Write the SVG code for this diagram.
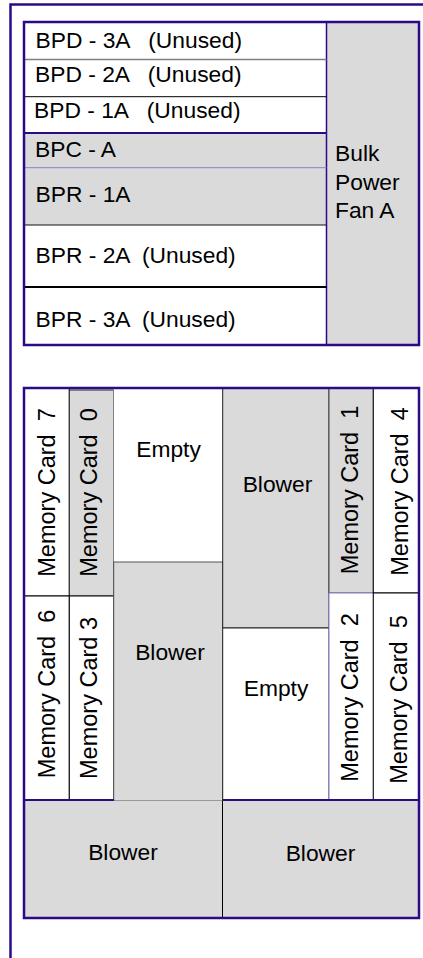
<svg xmlns="http://www.w3.org/2000/svg" width="423" height="958" viewBox="0 0 423 958" xml:space="preserve">
<style>
.t{font-family:"Liberation Sans",Arial,Helvetica,sans-serif;font-size:22.8px;fill:#000;white-space:pre}
.v{font-family:"Liberation Sans",Arial,Helvetica,sans-serif;font-size:23.5px;fill:#000;text-anchor:middle;white-space:pre}
.m{text-anchor:middle}
.g{fill:#dadada}
.w{fill:#ffffff}
.ind{stroke:#2c0a87;fill:none}
</style>
<rect width="423" height="958" fill="#fff"/>
<rect id="frame" x="10.5" y="4.5" width="600" height="1000" class="ind" stroke-width="2.5"/>

<g id="bulk-power">
  <g id="bpd-3a"><rect x="24" y="22" width="302.5" height="37.5" class="w"/><text class="t" x="35.5" y="48">BPD - 3A   (Unused)</text></g>
  <g id="bpd-2a"><rect x="24" y="59.5" width="302.5" height="37.2" class="w"/><text class="t" x="35" y="82">BPD - 2A   (Unused)</text></g>
  <g id="bpd-1a"><rect x="24" y="96.7" width="302.5" height="36.3" class="w"/><text class="t" x="34" y="118">BPD - 1A   (Unused)</text></g>
  <g id="bpc-a"><rect x="24" y="133" width="302.5" height="34.7" class="g"/><text class="t" x="35" y="157">BPC - A</text></g>
  <g id="bpr-1a"><rect x="24" y="167.7" width="302.5" height="57.3" class="g"/><text class="t" x="35.5" y="202">BPR - 1A</text></g>
  <g id="bpr-2a"><rect x="24" y="225" width="302.5" height="62" class="w"/><text class="t" x="35.5" y="263">BPR - 2A  (Unused)</text></g>
  <g id="bpr-3a"><rect x="24" y="287" width="302.5" height="58" class="w"/><text class="t" x="35.5" y="327">BPR - 3A  (Unused)</text></g>
  <g id="fan-a"><rect x="326.5" y="22" width="92.5" height="323" class="g" stroke="#2c0a87" stroke-width="1.5"/>
    <text class="t" x="335" y="161">Bulk</text><text class="t" x="335" y="189.5">Power</text><text class="t" x="335" y="218">Fan A</text></g>
  <line x1="24" y1="59.5" x2="326.5" y2="59.5" stroke="#7f7f7f" stroke-width="1.5"/>
  <line x1="24" y1="96.7" x2="326.5" y2="96.7" stroke="#000" stroke-width="1"/>
  <line x1="24" y1="133" x2="326.5" y2="133" stroke="#2c0a87" stroke-width="2"/>
  <line x1="24" y1="167.7" x2="326.5" y2="167.7" stroke="#8a7cc8" stroke-width="1"/>
  <line x1="24" y1="225" x2="326.5" y2="225" stroke="#111" stroke-width="1.2"/>
  <line x1="24" y1="287" x2="326.5" y2="287" stroke="#000" stroke-width="2"/>
  <rect x="24" y="22" width="395" height="323" class="ind" stroke-width="2.5"/>
</g>

<g id="memory">
  <g id="mc7"><rect x="24" y="388" width="45.3" height="208" class="w" stroke="#000" stroke-width="1"/><text class="v" transform="translate(55,492.5) rotate(-90)">Memory Card  7</text></g>
  <g id="mc6"><rect x="24" y="596" width="45.3" height="204" class="w" stroke="#000" stroke-width="1"/><text class="v" transform="translate(55,694) rotate(-90)">Memory Card  6</text></g>
  <g id="mc0"><rect x="69.3" y="390" width="44.4" height="206" class="g" stroke="#222" stroke-width="1"/><text class="v" transform="translate(96.7,492.5) rotate(-90)">Memory Card  0</text></g>
  <g id="mc3"><rect x="69.3" y="596" width="44.4" height="204" class="w" stroke="#000" stroke-width="1"/><text class="v" transform="translate(97,698) rotate(-90)">Memory Card 3</text></g>
  <g id="empty-1"><rect x="113.7" y="388" width="109" height="174" class="w"/><text class="t m" x="168.5" y="457">Empty</text></g>
  <g id="blower-1"><rect x="113.7" y="562" width="109" height="239" class="g" stroke="#555" stroke-width="1"/><text class="t m" x="170" y="660">Blower</text></g>
  <g id="blower-2"><rect x="222.7" y="388" width="106.3" height="240" class="g" stroke="#222" stroke-width="1"/><text class="t m" x="277.5" y="491.5">Blower</text></g>
  <g id="empty-2"><rect x="222.7" y="628" width="106.3" height="172" class="w" stroke="#222" stroke-width="1"/><text class="t m" x="276" y="696">Empty</text></g>
  <g id="mc1"><rect x="329" y="388" width="44.3" height="205" class="g" stroke="#444" stroke-width="1"/><text class="v" transform="translate(358.3,490) rotate(-90)">Memory Card  1</text></g>
  <g id="mc2"><rect x="329" y="593" width="44.3" height="207" class="w" stroke="#8a7cc8" stroke-width="1"/><text class="v" transform="translate(358.3,697.5) rotate(-90)">Memory Card  2</text></g>
  <g id="mc4"><rect x="373.3" y="388" width="45.7" height="205" class="w" stroke="#000" stroke-width="1"/><text class="v" transform="translate(408.3,491.5) rotate(-90)">Memory Card  4</text></g>
  <g id="mc5"><rect x="373.3" y="593" width="45.7" height="207" class="w" stroke="#000" stroke-width="1"/><text class="v" transform="translate(406.7,699.5) rotate(-90)">Memory Card  5</text></g>
  <g id="blower-3"><rect x="24" y="801" width="198.5" height="117" class="g"/><text class="t m" x="123" y="860">Blower</text></g>
  <g id="blower-4"><rect x="222.5" y="801" width="196.5" height="117" class="g"/><text class="t m" x="320.5" y="861">Blower</text></g>
  <line x1="24" y1="800" x2="114" y2="800" stroke="#2c0a87" stroke-width="2"/>
  <line x1="222.5" y1="800" x2="419" y2="800" stroke="#2c0a87" stroke-width="2"/>
  <line x1="222.5" y1="801" x2="222.5" y2="918" stroke="#000" stroke-width="1"/>
  <rect x="24" y="388" width="395" height="530" class="ind" stroke-width="2.5"/>
</g>
</svg>
